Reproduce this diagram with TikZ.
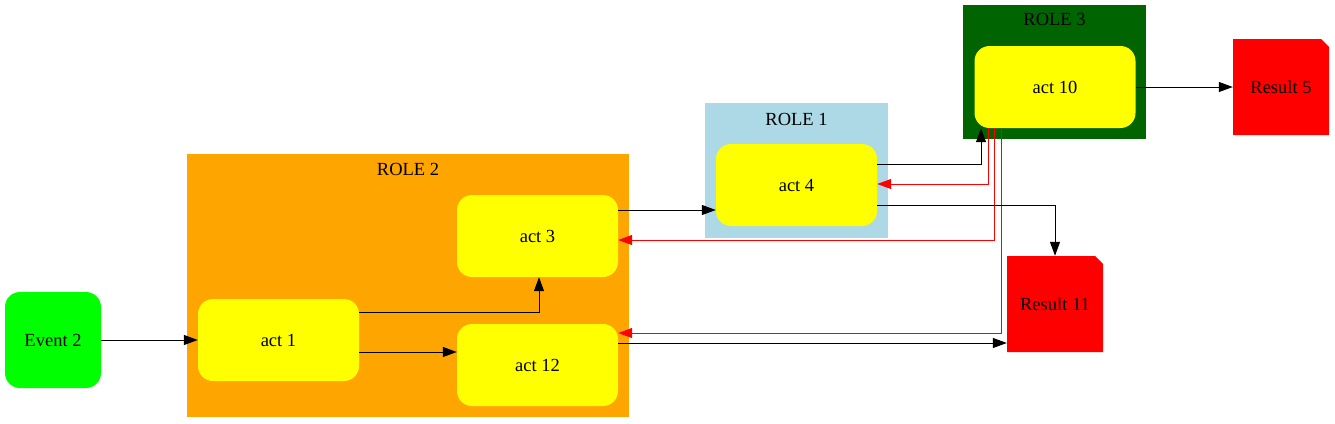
\documentclass[tikz,border=0pt]{standalone}
\usepackage{fontspec}
\setmainfont{Liberation Serif}
\usetikzlibrary{arrows.meta,calc}
\definecolor{gvorange}{RGB}{255,165,0}
\definecolor{gvlightblue}{RGB}{173,216,230}
\definecolor{gvdarkgreen}{RGB}{0,100,0}
\definecolor{gvgreen}{RGB}{0,255,0}
\definecolor{gvyellow}{RGB}{255,255,0}
\definecolor{gvred}{RGB}{255,0,0}
\begin{document}
\begin{tikzpicture}[x=1pt,y=-1pt,
  every node/.style={font=\fontsize{18.5}{21}\selectfont, inner sep=0pt},
  actbox/.style={fill=gvyellow, rounded corners=15pt, minimum width=161pt, minimum height=82pt},
  evbox/.style={fill=gvgreen, rounded corners=15pt, minimum width=96pt, minimum height=96pt},
  resbox/.style={minimum width=96pt, minimum height=96pt,
    path picture={\fill[gvred] (path picture bounding box.south west) -- (path picture bounding box.north west)
      -- ($(path picture bounding box.north east)+(-8pt,0)$) -- ($(path picture bounding box.north east)+(0,-8pt)$)
      -- (path picture bounding box.south east) -- cycle;}},
  arr/.style={draw=black, line width=1pt, -{Triangle[length=14pt,width=10pt]}},
  rarr/.style={draw=gvred, line width=1pt, -{Triangle[length=14pt,width=10pt]}}
]
\useasboundingbox (0,0) rectangle (1335,423);
% clusters
\fill[gvorange] (187,154) rectangle (629,417);
\node at (408,169) {ROLE 2};
\fill[gvlightblue] (705,103) rectangle (888,238);
\node at (796.5,119) {ROLE 1};
\fill[gvdarkgreen] (963,5) rectangle (1146,139);
\node at (1054.5,19) {ROLE 3};
% nodes
\node[evbox] (ev2) at (53,340) {Event 2};
\node[actbox] (act1) at (278.5,340) {act 1};
\node[actbox] (act3) at (537.5,236) {act 3};
\node[actbox] (act12) at (537.5,365) {act 12};
\node[actbox] (act4) at (796.5,185) {act 4};
\node[actbox] (act10) at (1055,87) {act 10};
\node[resbox] (res5) at (1281,87) {Result 5};
\node[resbox] (res11) at (1055,304) {Result 11};
% edge waypoints
\coordinate (a1o1) at (act1.east |- 0,312);
\coordinate (a3i1) at (539,0 |- act3.south);
\coordinate (a1o2) at (act1.east |- 0,352);
\coordinate (a12i1) at (act12.west |- 0,352);
\coordinate (a3o1) at (act3.east |- 0,210);
\coordinate (a4i1) at (act4.west |- 0,210);
\coordinate (a4o1) at (act4.east |- 0,164);
\coordinate (a10i1) at (981,0 |- act10.south);
\coordinate (a10o1) at (988,0 |- act10.south);
\coordinate (a4i2) at (act4.east |- 0,184);
\coordinate (a10o2) at (994,0 |- act10.south);
\coordinate (a3i2) at (act3.east |- 0,240);
\coordinate (a10o3) at (1001,0 |- act10.south);
\coordinate (a12i2) at (act12.east |- 0,333);
\coordinate (a4o2) at (act4.east |- 0,205);
\coordinate (a12o1) at (act12.east |- 0,343);
\coordinate (r11i1) at (res11.west |- 0,343);
% edges
\draw[arr] (ev2.east) -- (act1.west);
\draw[arr] (a1o1) -| (a3i1);
\draw[arr] (a1o2) -- (a12i1);
\draw[arr] (a3o1) -- (a4i1);
\draw[arr] (a4o1) -| (a10i1);
\draw[rarr] (a10o1) |- (a4i2);
\draw[rarr] (a10o2) |- (a3i2);
\draw[rarr] (a10o3) |- (a12i2);
\draw[arr] (a4o2) -| (res11.north);
\draw[arr] (a12o1) -- (r11i1);
\draw[arr] (act10.east) -- (res5.west);
\end{tikzpicture}
\end{document}
